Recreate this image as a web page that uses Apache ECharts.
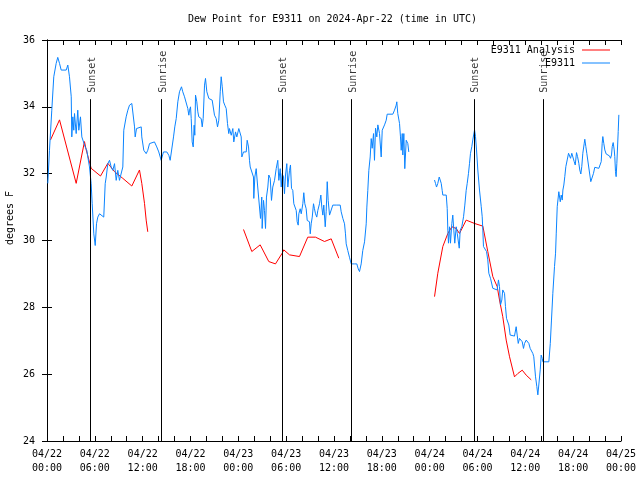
<!DOCTYPE html>
<html>
<head>
<meta charset="utf-8">
<script src="https://cdn.jsdelivr.net/npm/echarts@6/dist/echarts.min.js"></script>
<style>html,body{margin:0;padding:0;background:#fff}#c{width:640px;height:480px}</style>
</head>
<body>
<div id="c"></div>
<script>
// Hours since 2024-04-22 00:00 UTC
var tickLabels = ['04/22\n00:00','04/22\n06:00','04/22\n12:00','04/22\n18:00','04/23\n00:00','04/23\n06:00','04/23\n12:00','04/23\n18:00','04/24\n00:00','04/24\n06:00','04/24\n12:00','04/24\n18:00','04/25\n00:00'];

var sunNames = ['Sunset','Sunrise','Sunset','Sunrise','Sunset','Sunrise'];
var sunHours = [5.45, 14.33, 29.45, 38.15, 53.54, 62.19];

var obsHours = [0.10,0.31,0.60,0.85,1.15,1.35,1.57,1.78,2.41,2.61,2.82,3.04,3.11,3.24,3.36,3.45,3.66,3.86,3.99,4.20,4.37,4.62,4.79,4.99,5.12,5.33,5.54,5.67,5.87,6.05,6.21,6.37,6.59,6.80,7.12,7.30,7.43,7.63,7.84,8.05,8.25,8.47,8.68,8.88,9.09,9.31,9.51,9.63,9.81,9.93,10.14,10.35,10.64,10.89,10.98,11.06,11.23,11.48,11.82,11.89,12.14,12.44,12.64,12.86,13.07,13.48,13.61,13.77,14.02,14.32,14.61,15.03,15.28,15.45,15.70,15.87,16.03,16.21,16.41,16.62,16.87,17.03,17.25,17.46,17.66,17.79,17.88,18.00,18.09,18.21,18.34,18.46,18.54,18.63,18.79,18.92,19.04,19.34,19.47,19.59,19.76,19.88,20.05,20.30,20.47,20.72,20.89,21.01,21.22,21.39,21.55,21.73,21.85,21.98,22.14,22.30,22.48,22.64,22.80,22.89,23.11,23.31,23.43,23.65,23.81,24.06,24.15,24.36,24.44,24.65,24.99,25.11,25.28,25.40,25.49,25.74,25.90,25.94,26.07,26.24,26.41,26.66,26.78,26.94,26.99,27.16,27.28,27.41,27.53,27.70,27.82,28.00,28.16,28.32,28.54,28.75,28.95,29.08,29.25,29.38,29.50,29.67,29.79,29.92,30.08,30.21,30.42,30.54,30.67,30.83,30.96,31.26,31.38,31.51,31.59,31.76,31.89,32.09,32.21,32.34,32.51,32.64,32.93,33.02,33.14,33.27,33.43,33.55,33.68,33.84,33.97,34.18,34.35,34.47,34.60,34.72,34.90,35.02,35.15,35.27,35.44,35.65,35.85,36.28,36.78,36.90,37.11,37.32,37.44,37.53,37.73,37.94,38.16,38.57,38.86,39.04,39.20,39.41,39.61,39.83,40.04,40.12,40.24,40.37,40.54,40.67,40.79,40.96,41.08,41.21,41.37,41.50,41.71,41.92,42.05,42.21,42.34,42.55,42.67,43.38,43.59,43.80,43.88,44.00,44.22,44.34,44.43,44.56,44.63,44.76,44.88,45.06,45.26,45.38,
  47.00,
  48.61,48.73,48.86,49.02,49.20,49.36,49.45,49.57,49.65,50.08,50.20,50.28,50.36,50.49,50.61,50.78,50.90,51.03,51.15,51.33,51.46,51.58,51.71,51.83,52.03,52.25,52.41,52.58,52.71,52.87,53.00,53.12,53.29,53.41,53.54,53.63,53.75,53.88,54.04,54.25,54.47,54.59,54.67,54.75,54.97,55.13,55.29,55.42,55.63,55.80,55.92,56.13,56.47,56.63,56.76,56.88,57.05,57.17,57.39,57.51,57.64,57.80,57.93,58.10,58.35,58.64,58.85,58.98,59.11,59.27,59.48,59.61,59.77,59.90,60.11,60.31,60.44,60.61,60.78,60.94,61.06,61.28,61.44,61.57,61.78,61.87,61.99,62.12,62.20,62.95,63.13,63.28,63.45,63.66,63.79,63.88,64.00,64.13,64.20,64.38,64.50,64.63,64.71,64.83,64.95,65.08,65.25,65.42,65.54,65.67,65.83,65.96,66.13,66.26,66.42,66.55,66.71,66.83,66.96,67.08,67.21,67.39,67.46,67.59,67.71,67.96,68.09,68.21,68.39,68.55,68.71,69.22,69.43,69.52,69.64,69.72,69.84,69.97,70.14,70.35,70.56,70.69,70.81,70.90,71.02,71.15,71.22,71.31,71.39,71.48,71.56,71.65,71.73];

var obsValues = [31.71,32.7,33.9,34.9,35.3,35.48,35.3,35.1,35.1,35.25,34.9,34.3,33.1,33.7,33.3,33.8,33.2,33.9,33.3,33.7,33.1,33.05,32.8,32.7,32.5,32.2,31.7,31.1,30.2,29.85,30.5,30.7,30.8,30.8,30.7,31.7,31.9,32.3,32.4,32.2,32.1,32.3,31.8,32.1,31.8,31.8,32.2,33.3,33.3,33.7,33.9,34.05,34.1,34.05,33.4,33.1,33.35,33.4,33.4,33.1,32.7,32.6,32.7,32.9,32.95,32.95,32.9,32.8,32.65,32.4,32.65,32.65,32.55,32.4,32.4,33.1,33.4,33.65,34.15,34.45,34.6,34.45,34.3,34.25,33.95,33.75,33.9,34.0,33.65,32.95,32.8,33.45,33.15,34.35,34.15,33.85,33.7,33.65,33.4,33.65,34.65,34.85,34.45,34.25,34.2,34.2,34.15,33.75,33.65,33.4,33.6,34.45,34.9,34.6,34.15,34.05,33.95,33.5,33.2,33.35,33.15,33.35,32.95,33.25,33.1,33.35,33.3,33.1,32.5,32.65,32.65,33.0,32.8,32.4,32.2,32.15,31.9,31.26,31.9,32.15,31.66,31.66,30.66,31.3,30.36,31.2,30.9,30.36,31.3,31.6,31.96,31.86,31.2,31.6,31.8,32.15,32.4,31.8,32.15,31.6,32.0,31.9,31.4,31.96,32.3,31.6,32.1,32.26,31.56,31.5,31.1,30.9,30.56,30.46,30.8,30.95,30.8,31.1,31.43,31.1,30.95,30.6,30.56,30.2,30.5,30.7,31.1,30.95,30.8,30.7,30.9,31.1,31.36,31.0,30.76,31.06,30.41,30.86,31.76,31.2,30.76,30.8,31.06,31.06,31.06,30.86,30.66,30.5,30.2,29.9,29.7,29.5,29.3,29.3,29.3,29.15,29.07,29.3,29.7,29.96,30.5,31.0,31.5,32.1,32.5,33.05,32.76,33.2,32.4,33.36,33.1,33.46,33.2,32.5,33.3,33.3,33.46,33.6,33.78,33.78,33.9,34.05,34.15,33.8,33.5,33.1,32.7,33.2,32.56,33.2,32.15,33.0,32.9,32.65,
  null,
  31.81,31.71,31.6,31.71,31.9,31.9,31.71,31.5,31.36,31.36,30.96,30.31,29.92,30.41,29.92,30.51,30.76,30.31,29.92,30.41,30.21,30.16,29.77,30.31,30.41,30.71,31.06,31.5,31.71,32.01,32.31,32.61,32.81,33.01,33.01,33.31,33.11,32.71,32.11,31.51,31.01,30.71,30.31,29.82,29.77,29.67,29.42,29.02,28.87,28.82,28.57,28.52,28.52,28.82,28.62,28.07,28.22,28.52,28.42,28.02,27.67,27.72,27.47,27.17,27.14,27.14,27.42,27.17,26.92,27.07,27.12,26.97,26.77,26.92,27.02,27.02,26.92,26.77,26.72,26.62,26.52,25.92,25.63,25.38,25.38,26.13,26.57,26.47,26.37,26.37,26.92,27.62,28.42,29.22,29.62,30.22,31.01,31.01,31.46,31.16,31.36,31.21,31.51,31.66,31.91,32.21,32.41,32.61,32.56,32.46,32.61,32.63,32.36,32.26,32.63,32.51,32.31,32.11,31.99,32.21,32.61,32.91,33.03,32.81,32.61,32.59,31.96,31.76,31.71,32.01,32.19,32.16,32.16,32.36,32.91,33.11,32.91,32.71,32.59,32.56,32.53,32.46,32.56,32.81,32.93,32.71,32.51,32.06,31.91,32.31,32.36,33.26,33.76];

var anaHours = [0.44,1.57,3.66,4.70,4.92,5.54,6.71,7.63,8.47,9.51,10.64,11.60,11.89,12.23,12.44,12.64,
  18.0,
  24.65,25.69,26.74,27.82,28.66,29.50,29.70,30.42,31.67,32.71,33.68,34.81,35.65,36.60,
  42.0,
  48.61,49.02,49.65,50.28,50.78,51.33,51.74,52.58,53.63,54.67,55.29,55.92,56.47,56.76,57.17,57.60,58.02,58.64,59.06,59.61,60.11,60.74];
var anaValues = [33.01,33.61,31.71,32.96,32.71,32.16,31.93,32.31,32.06,31.86,31.63,32.11,31.71,31.11,30.61,30.26,
  null,
  30.33,29.67,29.87,29.37,29.30,29.62,29.72,29.57,29.52,30.10,30.10,29.97,30.05,29.47,
  null,
  28.32,29.02,29.82,30.21,30.41,30.36,30.21,30.61,30.51,30.43,29.67,28.92,28.62,28.22,27.72,27.02,26.52,25.92,26.02,26.12,25.97,25.83];

var yMin = 24, yMax = 36, yStep = 2;
var xMin = 0, xMax = 72, xStep = 2;
var sunLineTop = 34.23, sunLabelBase = 34.42;

function zip(a, b) { return a.map(function (v, i) { return [v, b[i]]; }); }

var FONT = 'DejaVu Sans Mono';
var chart = echarts.init(document.getElementById('c'), null, {renderer: 'canvas'});

var axisCommon = {
  type: 'value', min: xMin, max: xMax, interval: xStep,
  splitLine: {show: false},
  axisLine: {show: true, onZero: false, lineStyle: {color: '#000', width: 1}},
  axisTick: {show: true, inside: true, length: 5, lineStyle: {color: '#000'}}
};

chart.setOption({
  animation: false,
  backgroundColor: '#fff',
  title: {
    text: 'Dew Point for E9311 on 2024-Apr-22 (time in UTC)',
    left: 183, top: 9,
    textStyle: {fontFamily: FONT, fontSize: 10, fontWeight: 'normal', color: '#000'}
  },
  legend: {
    data: ['E9311 Analysis', 'E9311'],
    orient: 'vertical', align: 'right',
    right: 25, top: 40,
    itemWidth: 28, itemHeight: 10, itemGap: 3,
    icon: 'path://M0,4.5L28,4.5L28,5.5L0,5.5Z',
    textStyle: {fontFamily: FONT, fontSize: 10, color: '#000', padding: [0, 2, 0, 0]}
  },
  grid: {left: 47, right: 19, top: 40, bottom: 39, containLabel: false},
  xAxis: [
    Object.assign({}, axisCommon, {
      position: 'bottom',
      axisLabel: {
        interval: 0, margin: 6, lineHeight: 14,
        fontFamily: FONT, fontSize: 10, color: '#000',
        formatter: function (v) { return v % 6 === 0 ? tickLabels[v / 6] : ''; }
      }
    }),
    Object.assign({}, axisCommon, {position: 'top', axisLabel: {show: false}})
  ],
  yAxis: [
    {
      type: 'value', min: yMin, max: yMax, interval: yStep, position: 'left',
      splitLine: {show: false},
      axisLine: {show: true, lineStyle: {color: '#000'}},
      axisTick: {show: true, inside: true, length: 5, lineStyle: {color: '#000'}},
      axisLabel: {margin: 12, fontFamily: FONT, fontSize: 10, color: '#000'}
    },
    {
      type: 'value', min: yMin, max: yMax, interval: yStep, position: 'right',
      splitLine: {show: false},
      axisLine: {show: true, lineStyle: {color: '#000'}},
      axisTick: {show: true, inside: true, length: 5, lineStyle: {color: '#000'}},
      axisLabel: {show: false}
    }
  ],
  graphic: [{
    type: 'text', x: 10, y: 218, rotation: Math.PI / 2,
    style: {text: 'degrees F', fontFamily: FONT, fontSize: 10, fill: '#000', align: 'center', verticalAlign: 'middle'}
  }],
  series: [
    {
      name: 'E9311 Analysis', type: 'line', data: zip(anaHours, anaValues),
      showSymbol: false, symbol: 'none', color: '#ff0000',
      lineStyle: {color: '#ff0000', width: 1}, connectNulls: false, z: 2
    },
    {
      name: 'E9311', type: 'line', data: zip(obsHours, obsValues),
      showSymbol: false, symbol: 'none', color: '#0a84ff',
      lineStyle: {color: '#0a84ff', width: 1}, connectNulls: false, z: 3
    },
    {
      name: 'sun', type: 'line', data: [], silent: true,
      markLine: {
        silent: true, symbol: ['none', 'none'], animation: false,
        lineStyle: {color: '#000', width: 1, type: 'solid'},
        label: {show: false},
        data: sunHours.map(function (h) { return [{coord: [h, yMin]}, {coord: [h, sunLineTop]}]; })
      }
    },
    {
      name: 'sunLabels', type: 'scatter', silent: true,
      data: sunHours.map(function (h, i) { return {value: [h, sunLabelBase], name: sunNames[i]}; }),
      symbolSize: 1, itemStyle: {color: 'rgba(0,0,0,0)'},
      label: {
        show: true, position: 'inside', rotate: 90, align: 'left', verticalAlign: 'middle',
        offset: [0, 2],
        formatter: function (p) { return p.name; },
        fontFamily: FONT, fontSize: 10, color: '#000'
      },
      z: 5
    }
  ]
});
</script>
</body>
</html>
